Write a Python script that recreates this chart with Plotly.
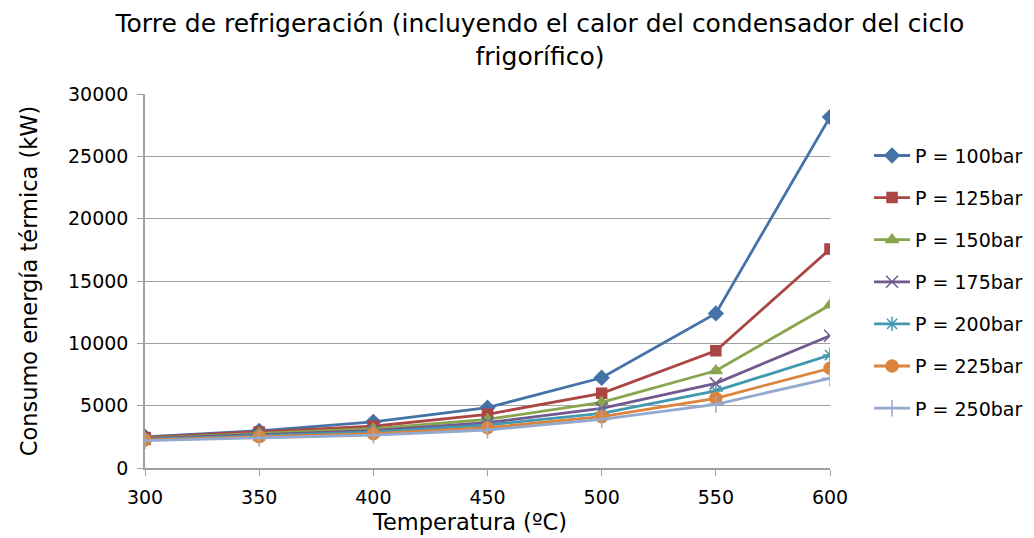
import plotly.graph_objects as go

# Datos
temperatura = [300, 350, 400, 450, 500, 550, 600]
p100 = [2500, 2980, 3700, 4840, 7240, 12400, 28150]
p125 = [2450, 2880, 3350, 4310, 5990, 9410, 17560]
p150 = [2400, 2780, 3150, 3900, 5270, 7800, 13070]
p175 = [2350, 2690, 3000, 3640, 4790, 6790, 10610]
p200 = [2300, 2600, 2880, 3450, 4390, 6180, 9060]
p225 = [2250, 2500, 2750, 3230, 4120, 5590, 8000]
p250 = [2200, 2400, 2630, 3050, 3900, 5110, 7190]

nombres = ['P = 100bar', 'P = 125bar', 'P = 150bar', 'P = 175bar',
           'P = 200bar', 'P = 225bar', 'P = 250bar']
series = [p100, p125, p150, p175, p200, p225, p250]
colores = ['#4572A7', '#AA4643', '#89A54E', '#71588F', '#4198AF', '#DB843D', '#93A9CF']
marcadores = ['diamond', 'square', 'triangle-up', 'x-thin', 'asterisk', 'circle', 'cross-thin']
tamanos = [11, 10, 11, 12, 12, 12, 12]

fuente = 'DejaVu Sans'

fig = go.Figure()
for nombre, valores, color, simbolo, tam in zip(nombres, series, colores, marcadores, tamanos):
    fig.add_trace(go.Scatter(
        x=temperatura, y=valores, name=nombre, mode='lines+markers',
        legendgroup=nombre,
        line=dict(color=color, width=2.8),
        marker=dict(symbol=simbolo, size=tam, color=color,
                    line=dict(color=color, width=1.5))))

# la pagina deja 8px de margen en el body, por eso los margenes van corridos
fig.update_layout(
    width=1034, height=538,
    paper_bgcolor='white', plot_bgcolor='white',
    margin=dict(l=137, r=212, t=86, b=78),
    font=dict(family=fuente, color='black'),
    title=dict(text='Torre de refrigeración (incluyendo el calor del condensador del ciclo<br>frigorífico)',
               x=0.5145, xanchor='center', y=0.955, yanchor='top',
               font=dict(size=25, family=fuente)),
    legend=dict(x=1.057, xanchor='left', y=0.886, yanchor='top',
                font=dict(size=19, family=fuente), tracegroupgap=14.4,
                itemwidth=36),
    showlegend=True,
    annotations=[dict(text='Temperatura (ºC)', x=0.473, y=-0.144,
                      xref='paper', yref='paper', xanchor='center', yanchor='middle',
                      showarrow=False, font=dict(size=22.5, family=fuente))],
)

fig.update_xaxes(
    range=[300, 600], tickvals=temperatura, showgrid=False,
    showline=True, linecolor='#A0A0A0', linewidth=1.5,
    ticks='outside', tickcolor='#A0A0A0', ticklen=6, ticklabelstandoff=5,
    tickfont=dict(size=19), zeroline=False)

fig.update_yaxes(
    range=[0, 30000], dtick=5000, tickformat='d',
    showgrid=True, gridcolor='#A0A0A0', gridwidth=1.2,
    showline=True, linecolor='#A0A0A0', linewidth=1.5,
    ticks='outside', tickcolor='#A0A0A0', ticklen=6, ticklabelstandoff=5,
    tickfont=dict(size=19), zeroline=False,
    title=dict(text='Consumo energía térmica (kW)', font=dict(size=22.5), standoff=24))

fig.write_html("out.html")
